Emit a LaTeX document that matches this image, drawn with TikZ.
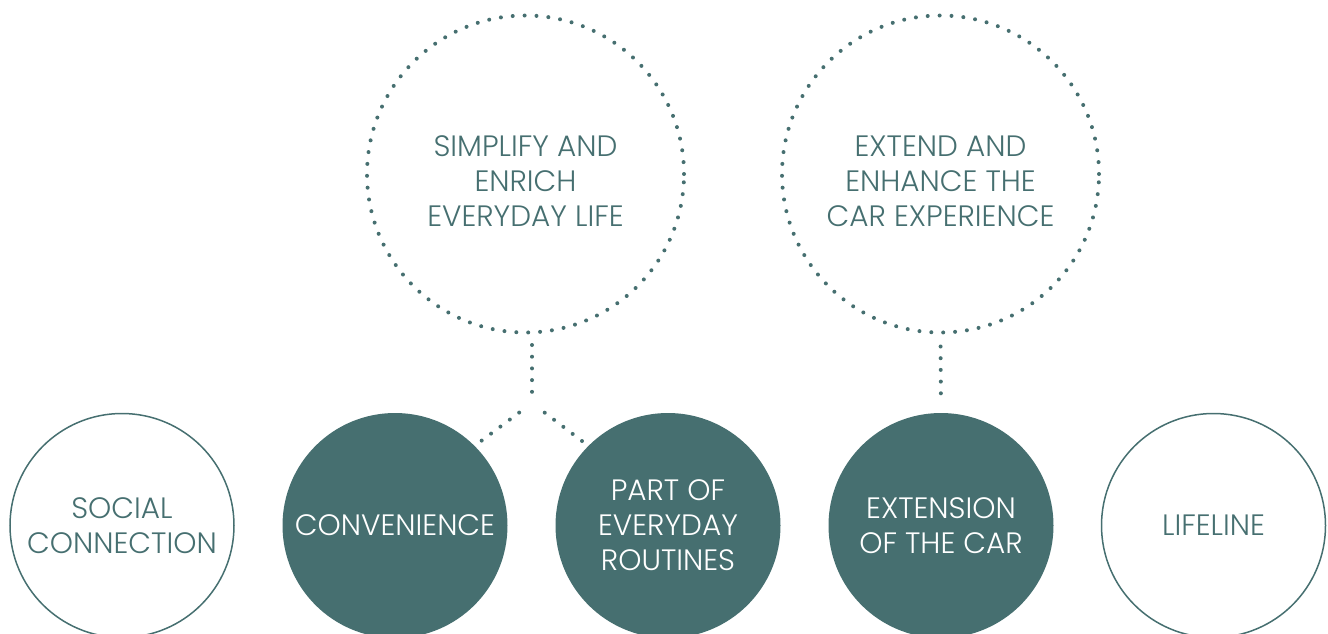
\documentclass[tikz,border=0pt]{standalone}
\usepackage{fontspec}
\setmainfont{Poppins}[UprightFont=* Light]
\usetikzlibrary{positioning,calc}

\definecolor{teal}{RGB}{70,111,112}

\begin{document}
\begin{tikzpicture}[
        x=1pt, y=-1pt,
        every node/.style={font=\fontsize{29.5}{35}\selectfont, align=center, text=teal},
        goal/.style={circle, draw=teal, line width=4pt, dash pattern=on 0pt off 11.9pt,
            line cap=round, minimum size=317pt, inner sep=0pt},
        plain/.style={circle, draw=teal, line width=1.5pt, minimum size=224pt, inner sep=0pt},
        solid/.style={circle, fill=teal, text=white, minimum size=225pt, inner sep=0pt},
        dotline/.style={teal, line width=4pt, dash pattern=on 0pt off 11.7pt, line cap=round}
    ]

    \useasboundingbox (0,0) rectangle (1328,634);

    % goals on top
    \node[goal, label={[yshift=-7pt]center:SIMPLIFY AND\\ENRICH\\EVERYDAY LIFE}]
        (simplify) at (525.5,174) {};
    \node[goal, label={[yshift=-7pt]center:EXTEND AND\\ENHANCE THE\\CAR EXPERIENCE}]
        (extend) at (940.5,174) {};

    % roles below
    \node[plain] (social) at (122,525.5) {SOCIAL\\CONNECTION};
    \node[solid] (conv) at (395,525.5) {CONVENIENCE};
    \node[solid] (routine) at (668,525.5) {PART OF\\EVERYDAY\\ROUTINES};
    \node[solid] (ext) at (941,525.5) {EXTENSION\\OF THE CAR};
    \node[plain] (lifeline) at (1213.5,525.5) {LIFELINE};

    \coordinate (split) at (532,403);
    \draw[dotline] (532,345) -- (split);
    \draw[dotline, shorten <=16pt] (split) -- (conv.45);
    \draw[dotline, shorten <=16pt] (split) -- (routine.135);
    \draw[dotline, shorten <=12pt, shorten >=8pt] (extend.south) -- (ext.north);

\end{tikzpicture}
\end{document}
